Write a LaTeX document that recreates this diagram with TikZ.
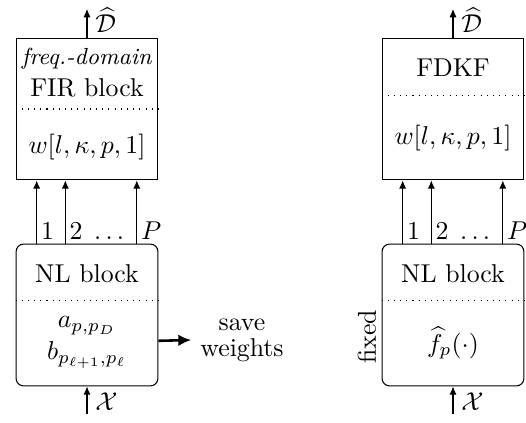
\documentclass[tikz,border=0pt]{standalone}
\usepackage{amsmath,amssymb}
\usetikzlibrary{arrows.meta}
\tikzstyle{block} = [draw, minimum width=55pt, minimum height=55pt, inner sep=0pt]
\tikzstyle{nlblock} = [block, rounded corners=3pt]
\tikzstyle{sig} = [-{Latex[length=3.2pt,width=2.8pt]}]
\tikzstyle{lab} = [right, inner sep=1.5pt]

\begin{document}
\begin{tikzpicture}[x=0.3876pt, y=-0.3876pt]
      \useasboundingbox (0,0) rectangle (526,422);
      % left: FIR and NL block
      \node[block] (fir) at (87, 109) {};
      \node (firdom) at (87, 59) {\small\textit{freq.-domain}};
      \node (firname) at (87, 88) {FIR block};
      \node (firw) at (87, 147) {$w[l, \kappa, p, 1]$};
      \draw[dotted] (fir.west) -- (fir.east);
      \node[nlblock] (nl) at (87, 315) {};
      \node (nlname) at (87, 274) {NL block};
      \node (nla) at (87, 326) {$a_{p,p_D}$};
      \node (nlb) at (87, 355) {$b_{p_{\ell+1},p_\ell}$};
      \draw[dotted] ([yshift=5.8pt]nl.west) -- ([yshift=5.8pt]nl.east);
      \coordinate (dout) at (87, 9);
      \coordinate (xin) at (87, 414);
      \draw[sig] (fir.north) -- (dout) node[right, pos=0.6, inner sep=3pt] {$\widehat{\mathcal{D}}$};
      \draw[sig] (xin) -- (nl.south) node[right, pos=0.45, inner sep=3pt] {$\mathcal{X}$};
      \draw[sig] ([xshift=-19.5pt]nl.north) -- node[lab, pos=0.2] {$1$} ([xshift=-19.5pt]fir.south);
      \draw[sig] ([xshift=-8.4pt]nl.north) -- node[lab, pos=0.2] {$2\;\dots$} ([xshift=-8.4pt]fir.south);
      \draw[sig] ([xshift=19.3pt]nl.north) -- node[lab, pos=0.2] {$P$} ([xshift=19.3pt]fir.south);
      \node (save) at (242, 340) {\shortstack{save \\ weights}};
      \draw[-{Latex[length=5pt,width=4.5pt]}, line width=1pt] ([yshift=-10pt]nl.east) -- (save.west);

      % right: FDKF and NL block
      \node[block] (fdkf) at (453, 109) {};
      \node (fdkfname) at (453, 68) {FDKF};
      \node (fdkfw) at (453, 138) {$w[l, \kappa, p, 1]$};
      \draw[dotted] ([yshift=5.4pt]fdkf.west) -- ([yshift=5.4pt]fdkf.east);
      \node[nlblock] (nlf) at (453, 315) {};
      \node (nlfname) at (453, 274) {NL block};
      \node (nlff) at (453, 343) {$\widehat{f}_p(\cdot)$};
      \draw[dotted] ([yshift=5.8pt]nlf.west) -- ([yshift=5.8pt]nlf.east);
      \node[rotate=90] (fixed) at (367, 337) {fixed};
      \coordinate (doutf) at (453, 9);
      \coordinate (xinf) at (453, 414);
      \draw[sig] (fdkf.north) -- (doutf) node[right, pos=0.6, inner sep=3pt] {$\widehat{\mathcal{D}}$};
      \draw[sig] (xinf) -- (nlf.south) node[right, pos=0.45, inner sep=3pt] {$\mathcal{X}$};
      \draw[sig] ([xshift=-19.5pt]nlf.north) -- node[lab, pos=0.2] {$1$} ([xshift=-19.5pt]fdkf.south);
      \draw[sig] ([xshift=-8.4pt]nlf.north) -- node[lab, pos=0.2] {$2\;\dots$} ([xshift=-8.4pt]fdkf.south);
      \draw[sig] ([xshift=19.3pt]nlf.north) -- node[lab, pos=0.2] {$P$} ([xshift=19.3pt]fdkf.south);
\end{tikzpicture}
\end{document}
